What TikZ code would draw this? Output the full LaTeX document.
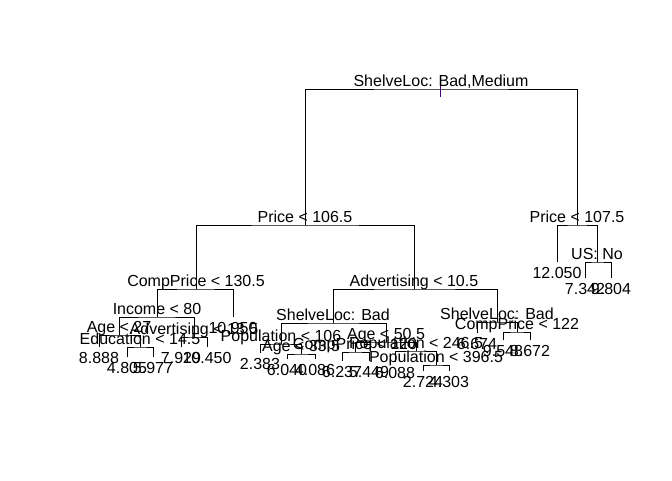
\documentclass[tikz,border=0pt]{standalone}
\usepackage{fontspec}
\setmainfont{Liberation Sans}
\definecolor{rootmark}{RGB}{70,0,120}

\tikzset{
    branch/.style={line width=0.75pt},
    txt/.style={anchor=base, inner sep=0pt, font=\fontsize{12}{14}\selectfont},
    split/.style={txt, yshift=2.25pt},
    leaf/.style={txt, yshift=-12pt},
}

\begin{document}
\begin{tikzpicture}[x=0.75pt, y=-0.75pt]
    \useasboundingbox (0,0) rectangle (672,480);
    % nodes, numbered as in the tree (children of k are 2k and 2k+1)
    \coordinate (n1)   at (441,89);
    \coordinate (n2)   at (305,225);
    \coordinate (n3)   at (577,225);
    \coordinate (n4)   at (196,289);
    \coordinate (n5)   at (414,289);
    \coordinate (n6)   at (557,262);
    \coordinate (n7)   at (597,262);
    \coordinate (n8)   at (157,317);
    \coordinate (n9)   at (233,317);
    \coordinate (n10)  at (333,323);
    \coordinate (n11)  at (497,322);
    \coordinate (n14)  at (585,278);
    \coordinate (n15)  at (611,278);
    \coordinate (n16)  at (119,335);
    \coordinate (n17)  at (194,337);
    \coordinate (n20)  at (281,344);
    \coordinate (n21)  at (386,342);
    \coordinate (n22)  at (477,333);
    \coordinate (n23)  at (517,332);
    \coordinate (n32)  at (99,347);
    \coordinate (n33)  at (140,347);
    \coordinate (n34)  at (181,347);
    \coordinate (n35)  at (207,347);
    \coordinate (n40)  at (260,353);
    \coordinate (n41)  at (301,354);
    \coordinate (n42)  at (355,352);
    \coordinate (n43)  at (416,351);
    \coordinate (n46)  at (503,340);
    \coordinate (n47)  at (530,340);
    \coordinate (n66)  at (127,357);
    \coordinate (n67)  at (153,357);
    \coordinate (n82)  at (287,359);
    \coordinate (n83)  at (315,359);
    \coordinate (n84)  at (342,361);
    \coordinate (n85)  at (369,361);
    \coordinate (n86)  at (395,362);
    \coordinate (n87)  at (436,365);
    \coordinate (n174) at (423,371);
    \coordinate (n175) at (449,371);
    \coordinate (r0)   at (440,81);
    \coordinate (r1)   at (440,97);

    % branches
    \draw[branch] (n2) |- (n1) -| (n3);
    \draw[branch] (n4) |- (n2) -| (n5);
    \draw[branch] (n6) |- (n3) -| (n7);
    \draw[branch] (n8) |- (n4) -| (n9);
    \draw[branch] (n10) |- (n5) -| (n11);
    \draw[branch] (n14) |- (n7) -| (n15);
    \draw[branch] (n16) |- (n8) -| (n17);
    \draw[branch] (n20) |- (n10) -| (n21);
    \draw[branch] (n22) |- (n11) -| (n23);
    \draw[branch] (n32) |- (n16) -| (n33);
    \draw[branch] (n34) |- (n17) -| (n35);
    \draw[branch] (n40) |- (n20) -| (n41);
    \draw[branch] (n42) |- (n21) -| (n43);
    \draw[branch] (n46) |- (n23) -| (n47);
    \draw[branch] (n66) |- (n33) -| (n67);
    \draw[branch] (n82) |- (n41) -| (n83);
    \draw[branch] (n84) |- (n42) -| (n85);
    \draw[branch] (n86) |- (n43) -| (n87);
    \draw[branch] (n174) |- (n87) -| (n175);
    \draw[branch, rootmark] (r0) -- (r1);

    % split labels
    \node[split] (s1)  at (n1)  {ShelveLoc: Bad,Medium};
    \node[split] (s2)  at (n2)  {Price < 106.5};
    \node[split] (s3)  at (n3)  {Price < 107.5};
    \node[split] (s4)  at (n4)  {CompPrice < 130.5};
    \node[split] (s5)  at (n5)  {Advertising < 10.5};
    \node[split] (s7)  at (n7)  {US: No};
    \node[split] (s8)  at (n8)  {Income < 80};
    \node[split] (s10) at (n10) {ShelveLoc: Bad};
    \node[split] (s11) at (n11) {ShelveLoc: Bad};
    \node[split] (s16) at (n16) {Age < 27};
    \node[split] (s17) at (n17) {Advertising < 13.5};
    \node[split] (s20) at (n20) {Population < 106};
    \node[split] (s21) at (n21) {Age < 50.5};
    \node[split] (s23) at (n23) {CompPrice < 122};
    \node[split] (s33) at (n33) {Education < 14.5};
    \node[split] (s41) at (n41) {Age < 33.5};
    \node[split] (s42) at (n42) {CompPrice < 120};
    \node[split] (s43) at (n43) {Population < 246.5};
    \node[split] (s87) at (n87) {Population < 396.5};

    % leaf values
    \node[leaf] (v6)   at (n6)   {12.050};
    \node[leaf] (v9)   at (n9)   {10.950};
    \node[leaf] (v14)  at (n14)  {7.342};
    \node[leaf] (v15)  at (n15)  {9.804};
    \node[leaf] (v22)  at (n22)  {6.674};
    \node[leaf] (v32)  at (n32)  {8.888};
    \node[leaf] (v34)  at (n34)  {7.929};
    \node[leaf] (v35)  at (n35)  {10.450};
    \node[leaf] (v40)  at (n40)  {2.383};
    \node[leaf] (v46)  at (n46)  {9.548};
    \node[leaf] (v47)  at (n47)  {8.672};
    \node[leaf] (v66)  at (n66)  {4.805};
    \node[leaf] (v67)  at (n67)  {5.977};
    \node[leaf] (v82)  at (n82)  {6.040};
    \node[leaf] (v83)  at (n83)  {4.086};
    \node[leaf] (v84)  at (n84)  {6.237};
    \node[leaf] (v85)  at (n85)  {5.449};
    \node[leaf] (v86)  at (n86)  {6.088};
    \node[leaf] (v174) at (n174) {2.724};
    \node[leaf] (v175) at (n175) {4.303};
\end{tikzpicture}
\end{document}
